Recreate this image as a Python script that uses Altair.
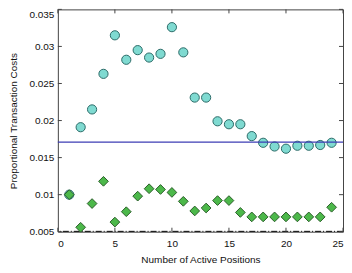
import altair as alt
import pandas as pd

positions = list(range(1, 25))
cyan_costs = [0.0100, 0.0191, 0.0215, 0.0263, 0.0315, 0.0282, 0.0295, 0.0285, 0.0290,
              0.0326, 0.0292, 0.0231, 0.0231, 0.0199, 0.0195, 0.0195, 0.0179, 0.0170,
              0.0165, 0.0162, 0.0166, 0.0166, 0.0167, 0.0170]
green_costs = [0.0100, 0.0056, 0.0088, 0.0118, 0.0063, 0.0077, 0.0098, 0.0108, 0.0107,
               0.0103, 0.0091, 0.0078, 0.0082, 0.0092, 0.0092, 0.0076, 0.0070, 0.0070,
               0.0070, 0.0070, 0.0070, 0.0070, 0.0070, 0.0083]
blue_level = 0.0171
black_level = 0.00505
x_ticks = [0, 5, 10, 15, 20, 25]
y_ticks = [0.005, 0.01, 0.015, 0.02, 0.025, 0.03, 0.035]

x_dom = [0, 25]
y_dom = [0.005, 0.035]
W, H = 286, 223
TK = 4  # inward tick length in px

df = pd.DataFrame({"n": positions, "cyan": cyan_costs, "green": green_costs})
xs = alt.Scale(domain=x_dom, nice=False, zero=False)
ys = alt.Scale(domain=y_dom, nice=False, zero=False)

x_axis = alt.Axis(
    values=x_ticks, title="Number of Active Positions", tickSize=0, labelPadding=7,
    titlePadding=6, grid=False, domain=False, format="d", labelOverlap=False)
y_axis = alt.Axis(
    values=y_ticks, title="Proportional Transaction Costs", tickSize=0,
    labelPadding=4, titlePadding=10, grid=False, domain=False,
    labelExpr="format(datum.value, '.3~f')", labelOverlap=False,
    labelBaseline={"condition": {"test": "datum.value > 0.0349", "value": "top"},
                   "value": "middle"})

base = alt.Chart(df)
cyan = base.mark_point(shape="circle", filled=True, fill="#7fdad1", stroke="#2d6b68",
                       strokeWidth=1, size=85, opacity=1).encode(
    x=alt.X("n:Q", scale=xs, axis=x_axis),
    y=alt.Y("cyan:Q", scale=ys, axis=y_axis))
green = base.mark_point(shape="diamond", filled=True, fill="#4cb84a", stroke="#2b5e2a",
                        strokeWidth=1, size=95, opacity=1).encode(
    x=alt.X("n:Q", scale=xs, axis=x_axis), y=alt.Y("green:Q", scale=ys, axis=y_axis))

blue = alt.Chart(pd.DataFrame({"v": [blue_level]})).mark_rule(
    color="#3c3cb4", strokeWidth=1.2).encode(y=alt.Y("v:Q", scale=ys, axis=y_axis))
black = alt.Chart(pd.DataFrame({"v": [black_level]})).mark_rule(
    color="#000000", strokeWidth=1, strokeDash=[6, 2, 1, 2]).encode(
    y=alt.Y("v:Q", scale=ys, axis=y_axis))

xt = pd.DataFrame({"t": x_ticks})
yt = pd.DataFrame({"t": y_ticks})
tick_b = alt.Chart(xt).mark_rule(color="#444", strokeWidth=1).encode(
    x=alt.X("t:Q", scale=xs, axis=x_axis), y=alt.value(H), y2=alt.value(H - TK))
tick_t = alt.Chart(xt).mark_rule(color="#444", strokeWidth=1).encode(
    x=alt.X("t:Q", scale=xs, axis=x_axis), y=alt.value(0), y2=alt.value(TK))
tick_l = alt.Chart(yt).mark_rule(color="#444", strokeWidth=1).encode(
    y=alt.Y("t:Q", scale=ys, axis=y_axis), x=alt.value(0), x2=alt.value(TK))
tick_r = alt.Chart(yt).mark_rule(color="#444", strokeWidth=1).encode(
    y=alt.Y("t:Q", scale=ys, axis=y_axis), x=alt.value(W), x2=alt.value(W - TK))

chart = alt.layer(cyan, blue, black, green, tick_b, tick_t, tick_l, tick_r).properties(
    width=W, height=H,
    padding={"left": 0, "top": 0, "right": 0, "bottom": 0},
    background="white",
).configure_view(stroke="#444444", strokeWidth=1).configure_axis(
    labelFont="Liberation Sans", titleFont="Liberation Sans", labelFontSize=10,
    titleFontSize=10, titleFontWeight="normal", labelColor="#111", titleColor="#111",
    labelOverlap=False,
)

chart.save("out.html", embed_options={"renderer": "svg", "actions": False})
